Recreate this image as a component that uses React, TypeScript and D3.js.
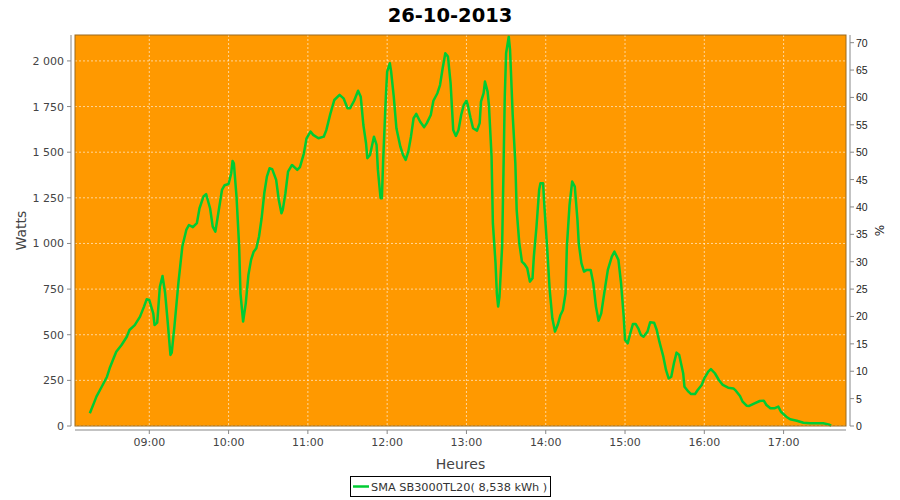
import React from 'react';
import * as d3 from 'd3';

const title = '26-10-2013';
const seriesName = 'SMA SB3000TL20( 8,538 kWh )';
const yAxisLabel = 'Watts';
const xAxisLabel = 'Heures';
const y2AxisLabel = '%';
const nominalWatts = 3000;
const yMax = 2142;
const yTickStep = 250;
const y2TickStep = 5;
const hourTicks = ['09:00', '10:00', '11:00', '12:00', '13:00', '14:00', '15:00', '16:00', '17:00'];

const times = [
  '08:15','08:18','08:20','08:24','08:28','08:30','08:33','08:35','08:39','08:43','08:45','08:49','08:53','08:56','08:58',
  '09:00','09:03','09:04','09:06','09:08','09:10','09:12','09:14','09:16','09:17','09:19','09:22','09:25','09:28','09:30','09:33','09:36','09:38','09:41','09:43','09:46','09:48','09:50','09:52','09:55','09:57',
  '10:00','10:02','10:03','10:04','10:06','10:08','10:09','10:11','10:13','10:15','10:17','10:19','10:21','10:23','10:25','10:27','10:29','10:31','10:33','10:36','10:38','10:40','10:41','10:43','10:45','10:48','10:52','10:54','10:57','10:59',
  '11:02','11:04','11:08','11:12','11:14','11:17','11:20','11:24','11:27','11:30','11:32','11:35','11:38','11:40','11:42','11:44','11:45','11:47','11:50','11:52','11:53','11:55','11:56','11:57','11:59',
  '12:00','12:02','12:03','12:05','12:07','12:10','12:12','12:14','12:16','12:18','12:20','12:22','12:25','12:28','12:30','12:33','12:35','12:38','12:40','12:42','12:44','12:46','12:48','12:49','12:50','12:52','12:54','12:56','12:58',
  '13:00','13:01','13:03','13:05','13:08','13:10','13:11','13:13','13:14','13:16','13:17','13:19','13:20','13:22','13:23','13:24','13:25','13:27','13:28','13:29','13:30','13:32','13:33','13:35','13:37','13:38','13:40','13:42','13:44','13:46','13:48','13:50','13:51','13:53','13:55','13:56','13:58','13:59',
  '14:01','14:03','14:05','14:07','14:09','14:11','14:13','14:15','14:16','14:18','14:20','14:22','14:24','14:25','14:27','14:29','14:31','14:34','14:36','14:38','14:40','14:42','14:45','14:47','14:50','14:52','14:55','14:57','14:59',
  '15:00','15:02','15:04','15:06','15:08','15:10','15:12','15:14','15:17','15:19','15:22','15:24','15:26','15:29','15:31','15:33','15:35','15:37','15:39','15:41','15:44','15:45','15:48','15:50','15:53','15:55','15:58',
  '16:00','16:03','16:05','16:08','16:11','16:14','16:18','16:22','16:24','16:27','16:29','16:32','16:34','16:38','16:42','16:45','16:47','16:50','16:53','16:56','16:58',
  '17:02','17:05','17:10','17:15','17:20','17:25','17:30','17:34','17:36',
];

const watts = [
  70,124,161,215,270,316,371,407,444,489,526,553,599,654,694,
  690,617,553,566,763,822,727,563,389,402,544,782,983,1074,1101,1089,1111,1193,1257,1270,1193,1092,1065,1156,1293,1319,
  1326,1385,1452,1439,1257,983,727,572,672,827,910,955,974,1037,1138,1275,1366,1412,1407,1348,1238,1165,1184,1275,1393,1430,1403,1418,1494,1576,
  1613,1595,1576,1585,1622,1710,1786,1814,1795,1741,1741,1782,1837,1804,1649,1549,1467,1485,1585,1540,1403,1248,1248,1458,1804,
  1942,1987,1942,1804,1631,1530,1485,1458,1503,1585,1686,1710,1667,1637,1659,1704,1782,1823,1868,1960,2042,2024,1878,1750,1622,1589,1622,1704,1759,
  1782,1759,1691,1631,1618,1659,1777,1823,1887,1832,1759,1476,1111,892,727,654,708,983,1385,1804,2042,2133,2060,1704,1439,1184,1001,900,886,864,791,809,928,1092,1293,1330,1330,1202,
  983,745,590,517,553,605,636,727,983,1210,1339,1311,1129,1001,892,846,855,855,782,654,577,617,763,855,928,955,910,782,599,
  471,453,508,559,559,535,499,489,517,568,566,526,462,380,307,261,270,344,402,389,289,215,188,175,175,197,225,
  261,298,312,289,252,225,210,206,192,164,133,111,110,124,137,139,115,97,97,106,78,
  51,37,29,18,15,15,15,9,2,
];

const W = 900;
const H = 500;
const plot = { left: 75, top: 35, right: 846, bottom: 426 };
const gap = 4;
const font = "'DejaVu Sans', sans-serif";
const textColor = '#444444';
const axisColor = '#888888';

function toDate(s: string): Date {
  const [h, m] = s.split(':').map(Number);
  return new Date(2013, 9, 26, h, m);
}

const frLocale = d3.formatLocale({ decimal: ',', thousands: '\u00a0', grouping: [3], currency: ['', ' €'] });
const fmtW = frLocale.format(',d');

export default function App() {
  const n = Math.min(times.length, watts.length);
  const data = d3.range(n).map((i) => ({ t: toDate(times[i]), w: watts[i] }));
  const [t0, t1] = d3.extent(data, (d) => d.t) as [Date, Date];
  const span = t1.getTime() - t0.getTime();
  const x = d3
    .scaleTime()
    .domain([new Date(t0.getTime() - span * 0.02), new Date(t1.getTime() + span * 0.02)])
    .range([plot.left, plot.right]);
  const y = d3.scaleLinear().domain([0, yMax]).range([plot.bottom, plot.top]);
  const y2 = d3.scaleLinear().domain([0, (yMax / nominalWatts) * 100]).range([plot.bottom, plot.top]);

  const yTicks = d3.range(0, yMax + 1, yTickStep);
  const y2Ticks = d3.range(0, y2.domain()[1] + 0.001, y2TickStep);
  const xTicks = hourTicks.map((s) => ({ label: s, d: toDate(s) }));

  const line = d3
    .line<{ t: Date; w: number }>()
    .x((d) => x(d.t))
    .y((d) => y(d.w))
    .curve(d3.curveLinear);

  const cy = (plot.top + plot.bottom) / 2;
  const cx = (plot.left + plot.right) / 2;
  const axisX = plot.left - gap;
  const axisY = plot.bottom + gap;
  const axisX2 = plot.right + gap;

  return (
    <svg width={W} height={H} style={{ position: 'absolute', left: 0, top: 0, background: '#ffffff' }}>
      <text x={W / 2} y={22} textAnchor="middle" fontFamily={font} fontWeight="bold" fontSize={19.5} fill="#000">
        {title}
      </text>

      <rect x={plot.left} y={plot.top} width={plot.right - plot.left} height={plot.bottom - plot.top} fill="#ff9900" />

      {yTicks.map((v) => (
        <line key={'gy' + v} x1={plot.left} x2={plot.right} y1={y(v)} y2={y(v)} stroke="#ffffff" strokeOpacity={0.75} strokeWidth={0.8} strokeDasharray="2,2" />
      ))}
      {xTicks.map((t) => (
        <line key={'gx' + t.label} x1={x(t.d)} x2={x(t.d)} y1={plot.top} y2={plot.bottom} stroke="#ffffff" strokeOpacity={0.75} strokeWidth={0.8} strokeDasharray="2,2" />
      ))}

      <path d={line(data) || ''} fill="none" stroke="#00cc33" strokeWidth={2.5} strokeLinejoin="round" />

      <rect x={plot.left} y={plot.top} width={plot.right - plot.left} height={plot.bottom - plot.top} fill="none" stroke="#9a6a20" strokeWidth={1} />

      {/* left axis */}
      <line x1={axisX} x2={axisX} y1={plot.top} y2={plot.bottom} stroke={axisColor} strokeWidth={1} />
      {yTicks.map((v) => (
        <g key={'ty' + v}>
          <line x1={axisX - 4} x2={axisX} y1={y(v)} y2={y(v)} stroke={axisColor} />
          <text x={axisX - 7} y={y(v) + 4} textAnchor="end" fontFamily={font} fontSize={11} fill={textColor}>
            {fmtW(v)}
          </text>
        </g>
      ))}
      <text transform={`translate(26,${cy}) rotate(-90)`} textAnchor="middle" fontFamily={font} fontSize={14} fill={textColor}>
        {yAxisLabel}
      </text>

      {/* bottom axis */}
      <line x1={plot.left} x2={plot.right} y1={axisY} y2={axisY} stroke={axisColor} strokeWidth={1} />
      {xTicks.map((t) => (
        <g key={'tx' + t.label}>
          <line x1={x(t.d)} x2={x(t.d)} y1={axisY} y2={axisY + 4} stroke={axisColor} />
          <text x={x(t.d)} y={axisY + 16} textAnchor="middle" fontFamily={font} fontSize={11} fill={textColor}>
            {t.label}
          </text>
        </g>
      ))}
      <text x={cx} y={469} textAnchor="middle" fontFamily={font} fontSize={14} fill={textColor}>
        {xAxisLabel}
      </text>

      {/* right axis */}
      <line x1={axisX2} x2={axisX2} y1={plot.top} y2={plot.bottom} stroke={axisColor} strokeWidth={1} />
      {y2Ticks.map((v) => (
        <g key={'ty2' + v}>
          <line x1={axisX2} x2={axisX2 + 4} y1={y2(v)} y2={y2(v)} stroke={axisColor} />
          <text x={axisX2 + 6} y={y2(v) + 4} textAnchor="start" fontFamily="'Liberation Sans', Arial, sans-serif" fontSize={10.5} fill="#222">
            {v}
          </text>
        </g>
      ))}
      <text transform={`translate(884,${cy}) rotate(-90)`} textAnchor="middle" fontFamily={font} fontSize={12} fill="#222">
        {y2AxisLabel}
      </text>

      {/* legend */}
      <rect x={350.5} y={476.5} width={200} height={20} fill="#ffffff" stroke="#000" strokeWidth={1} />
      <line x1={353} x2={369} y1={486.5} y2={486.5} stroke="#00cc33" strokeWidth={2.5} />
      <text x={371} y={490.5} fontFamily={font} fontSize={11.3} fill="#333">
        {seriesName}
      </text>
    </svg>
  );
}
